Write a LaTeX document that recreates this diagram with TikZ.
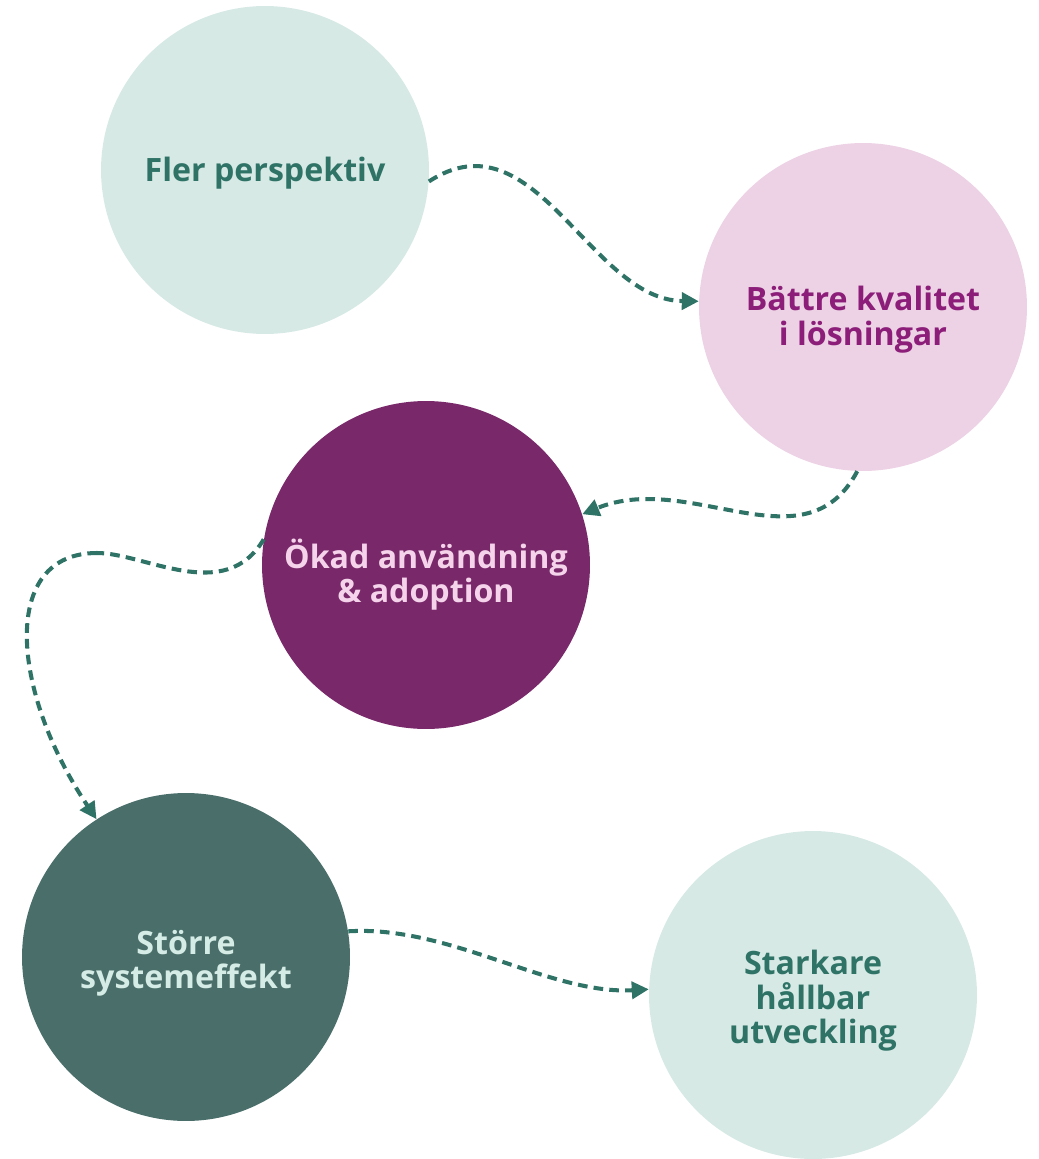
\documentclass[tikz,border=0pt]{standalone}
\usepackage{fontspec}
\setmainfont{Open Sans}
\usetikzlibrary{arrows.meta}
\definecolor{paleteal}{RGB}{214,233,229}
\definecolor{palepink}{RGB}{236,210,228}
\definecolor{plum}{RGB}{121,40,106}
\definecolor{slateteal}{RGB}{74,111,106}
\definecolor{linkteal}{RGB}{47,115,103}
\definecolor{plumtext}{RGB}{140,30,122}
\definecolor{pinktext}{RGB}{245,212,235}
\definecolor{mint}{RGB}{213,235,229}

\begin{document}
\begin{tikzpicture}[x=0.02cm,y=-0.02cm,
  bubble/.style={circle,minimum size=6.56cm,inner sep=0pt},
  words/.style={align=center,inner sep=0pt,
    font=\fontsize{18.3}{19.6}\selectfont\bfseries},
  link/.style={linkteal,line width=2.3pt,dash pattern=on 5.5pt off 3.5pt,
    -{Triangle[length=0.34cm,width=0.34cm]}}]
\useasboundingbox (0,0) rectangle (1038,1159);
% circles
\node[bubble,fill=paleteal,
  label={[words,text=linkteal,yshift=-0.06cm]center:Fler perspektiv}] (fler) at (265,170) {};
\node[bubble,fill=palepink,
  label={[words,text=plumtext,yshift=-0.25cm]center:{Bättre kvalitet\\i lösningar}}] (kval) at (863,307) {};
\node[bubble,fill=plum,
  label={[words,text=pinktext,yshift=-0.19cm]center:{Ökad användning\\\& adoption}}] (okad) at (426,565) {};
\node[bubble,fill=slateteal,
  label={[words,text=mint,yshift=-0.12cm]center:{Större\\systemeffekt}}] (storre) at (186,957) {};
\node[bubble,fill=paleteal,
  label={[words,text=linkteal,yshift=-0.12cm]center:{Starkare\\hållbar\\utveckling}}] (stark) at (813,995) {};
% links
\draw[link] (fler.-4) .. controls (535,112) and (590,300) .. (kval.178);
\draw[link] (kval.-92) .. controls (805,570) and (690,470) .. (okad.18);
\draw[link,-] (okad.171) .. controls (225,605) and (145,553) .. (97,553) coordinate (bend);
\draw[link] (bend) .. controls (0,553) and (10,690) .. (storre.123);
\draw[link] (storre.9) .. controls (450,925) and (550,995) .. (stark.178);
\end{tikzpicture}
\end{document}
